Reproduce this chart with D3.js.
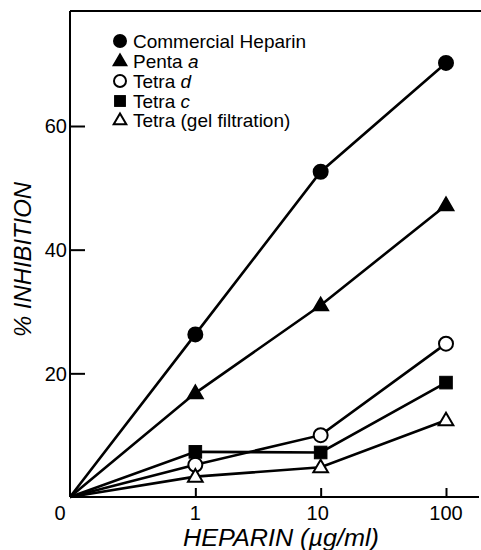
<!DOCTYPE html>
<html><head><meta charset="utf-8">
<script src="https://cdn.jsdelivr.net/npm/d3@7"></script>
<style>body{margin:0;background:#fff}svg{display:block}text{font-family:"Liberation Sans",Arial,sans-serif;fill:#000}</style>
</head><body>
<script>
const xCategories = ["0","1","10","100"];
const yTicks = [0,20,40,60];
const seriesNames = ["Commercial Heparin","Penta","Tetra","Tetra","Tetra (gel filtration)"];
const seriesItalic = ["","a","d","c",""];
const seriesSymbols = ["circleFilled","triangleFilled","circleOpen","squareFilled","triangleOpen"];
const commercialHeparin = [0,26.3,52.6,70.2];
const pentaA = [0,16.8,31.0,47.2];
const tetraD = [0,5.2,10.0,24.8];
const tetraC = [0,7.3,7.2,18.5];
const tetraGel = [0,3.3,4.8,12.4];
const seriesValues = [commercialHeparin,pentaA,tetraD,tetraC,tetraGel];

const W=481,H=550;
const svg=d3.select("body").append("svg").attr("width",W).attr("height",H);
const x=d3.scalePoint().domain(xCategories).range([70,446]);
const y=d3.scaleLinear().domain([0,60]).range([497,126]);

// frame lines
svg.append("line").attr("x1",70).attr("x2",481).attr("y1",11).attr("y2",11).attr("stroke","#000").attr("stroke-width",2);
svg.append("line").attr("x1",70).attr("x2",70).attr("y1",11).attr("y2",497).attr("stroke","#000").attr("stroke-width",2);
svg.append("line").attr("x1",70).attr("x2",479).attr("y1",497).attr("y2",497).attr("stroke","#000").attr("stroke-width",2);

// y axis
const ya=svg.append("g").attr("transform","translate(70,0)")
  .call(d3.axisRight(y).tickValues(yTicks.filter(d=>d>0)).tickSize(15).tickFormat(""));
ya.select(".domain").remove();
ya.selectAll("line").attr("stroke-width",2);
svg.selectAll(".ytl").data(yTicks.filter(d=>d>0)).join("text").attr("class","ytl")
  .attr("x",67).attr("y",d=>y(d)).attr("dy","0.36em").attr("text-anchor","end")
  .style("font-size","20px").text(d=>d);

// x axis
const xa=svg.append("g").attr("transform","translate(0,497)")
  .call(d3.axisTop(x).tickValues(xCategories.slice(1)).tickSize(9).tickFormat(""));
xa.select(".domain").remove();
xa.selectAll("line").attr("stroke-width",2);
svg.selectAll(".xtl").data(xCategories).join("text").attr("class","xtl")
  .attr("x",(d,i)=>i===0?60:x(d)-(i===2?3:0)).attr("y",520).attr("text-anchor","middle")
  .style("font-size","20px").text(d=>d);

// titles
svg.append("text").attr("x",183).attr("y",546).attr("textLength",196).attr("lengthAdjust","spacingAndGlyphs")
  .style("font-size","23px").style("font-style","italic").text("HEPARIN (µg/ml)");
svg.append("text").attr("transform","translate(31,337) rotate(-90)").attr("textLength",155).attr("lengthAdjust","spacingAndGlyphs")
  .style("font-size","23px").style("font-style","italic").text("% INHIBITION");

function drawSym(g,type,cx,cy,s){
  if(type.startsWith("circle")){
    g.append("circle").attr("cx",cx).attr("cy",cy).attr("r",s*0.5)
      .attr("fill",type.endsWith("Filled")?"#000":"#fff").attr("stroke","#000").attr("stroke-width",2);
  } else if(type.startsWith("square")){
    g.append("rect").attr("x",cx-s*0.45).attr("y",cy-s*0.45).attr("width",s*0.9).attr("height",s*0.9)
      .attr("fill","#000").attr("stroke","#000").attr("stroke-width",1);
  } else {
    const h=s*0.9, w=s*1.05;
    g.append("path").attr("d",`M${cx},${cy-h*0.6}L${cx+w/2},${cy+h*0.4}L${cx-w/2},${cy+h*0.4}Z`)
      .attr("fill",type.endsWith("Filled")?"#000":"#fff").attr("stroke","#000").attr("stroke-width",2).attr("stroke-linejoin","miter");
  }
}

const line=d3.line().x((d,i)=>x(xCategories[i])).y(d=>y(d));
seriesValues.forEach((vals,si)=>{
  svg.append("path").attr("d",line(vals)).attr("fill","none").attr("stroke","#000").attr("stroke-width",2.6);
});
seriesValues.forEach((vals,si)=>{
  const g=svg.append("g");
  vals.forEach((v,i)=>{ if(i>0) drawSym(g,seriesSymbols[si],x(xCategories[i]),y(v),14); });
});

// legend
const legY=[41,61,81,101,120];
seriesNames.forEach((n,i)=>{
  const g=svg.append("g");
  drawSym(g,seriesSymbols[i],120,legY[i],12);
  const t=g.append("text").attr("x",133).attr("y",legY[i]).attr("dy","0.36em").style("font-size","19px");
  t.append("tspan").text(n);
  if(seriesItalic[i]) t.append("tspan").style("font-style","italic").text(" "+seriesItalic[i]);
});
</script>
</body></html>
